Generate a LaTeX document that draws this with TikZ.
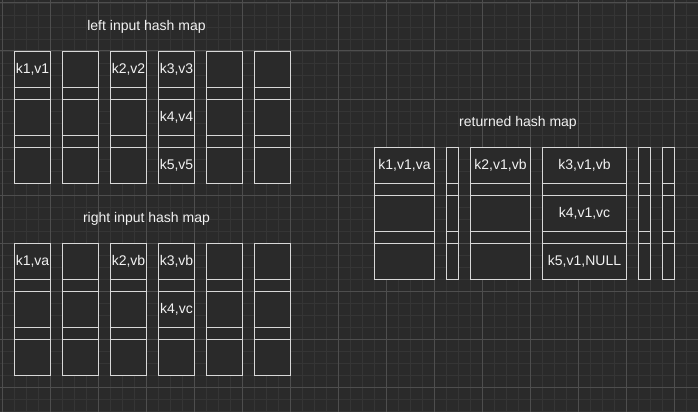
\documentclass[tikz,border=0pt]{standalone}
\usepackage{fontspec}
\setmainfont{Liberation Sans}
\definecolor{bgc}{HTML}{2A2A2A}
\definecolor{minorc}{HTML}{353535}
\definecolor{majorc}{HTML}{4E4E4E}
\definecolor{boxc}{HTML}{D8D8D8}
\definecolor{txtc}{HTML}{F2F2F2}
\tikzset{
  minorgrid/.style={draw=minorc, line width=0.8pt},
  majorgrid/.style={draw=majorc, line width=1pt},
  bucketbox/.style={draw=boxc, fill=bgc, line width=1.8pt},
  bucketline/.style={draw=boxc, line width=1.8pt},
  celltext/.style={text=txtc, inner sep=0pt, font=\fontsize{14}{16}\selectfont},
  titletext/.style={text=txtc, inner sep=0pt, font=\fontsize{14}{16}\selectfont},
}
% \bucket{left x}{top y}{width}
\newcommand{\bucket}[3]{%
  \path[bucketbox] (#1,#2) rectangle ++(#3,132);
  \draw[bucketline] (#1,#2+36) -- ++(#3,0);
  \draw[bucketline] (#1,#2+48) -- ++(#3,0);
  \draw[bucketline] (#1,#2+84) -- ++(#3,0);
  \draw[bucketline] (#1,#2+96) -- ++(#3,0);
}
\begin{document}
\begin{tikzpicture}[x=1pt,y=-1pt]
\useasboundingbox (0,0) rectangle (698,412);
\fill[bgc] (0,0) rectangle (698,412);
% grid
\foreach \i in {0,...,58} { \draw[minorgrid] (2.5+12*\i,0) -- (2.5+12*\i,412); }
\foreach \j in {0,...,34} { \draw[minorgrid] (0,3+12*\j) -- (698,3+12*\j); }
\foreach \i in {0,...,14} { \draw[majorgrid] (2.5+48*\i,0) -- (2.5+48*\i,412); }
\foreach \j in {0,...,8} { \draw[majorgrid] (0,3+48*\j) -- (698,3+48*\j); }

% left input hash map
\node[titletext] (lefttitle) at (146.5,27) {left input hash map};
\foreach \k in {0,...,5} { \bucket{14.5+48*\k}{51.5}{36} }
\node[celltext] (l1) at (32.5,69.5) {k1,v1};
\node[celltext] (l2) at (128.5,69.5) {k2,v2};
\node[celltext] (l3) at (176.5,69.5) {k3,v3};
\node[celltext] (l4) at (176.5,117.5) {k4,v4};
\node[celltext] (l5) at (176.5,165.5) {k5,v5};

% right input hash map
\node[titletext] (righttitle) at (146.5,219) {right input hash map};
\foreach \k in {0,...,5} { \bucket{14.5+48*\k}{243.5}{36} }
\node[celltext] (r1) at (32.5,261.5) {k1,va};
\node[celltext] (r2) at (128.5,261.5) {k2,vb};
\node[celltext] (r3) at (176.5,261.5) {k3,vb};
\node[celltext] (r4) at (176.5,309.5) {k4,vc};

% returned hash map
\node[titletext] (rettitle) at (518,123) {returned hash map};
\bucket{374.5}{147.5}{60}
\bucket{446.5}{147.5}{12}
\bucket{470.5}{147.5}{60}
\bucket{542.5}{147.5}{84}
\bucket{638.5}{147.5}{12}
\bucket{662.5}{147.5}{12}
\node[celltext] (o1) at (404.5,165.5) {k1,v1,va};
\node[celltext] (o2) at (500.5,165.5) {k2,v1,vb};
\node[celltext] (o3) at (584.5,165.5) {k3,v1,vb};
\node[celltext] (o4) at (584.5,213.5) {k4,v1,vc};
\node[celltext] (o5) at (584.5,261.5) {k5,v1,NULL};
\end{tikzpicture}
\end{document}
